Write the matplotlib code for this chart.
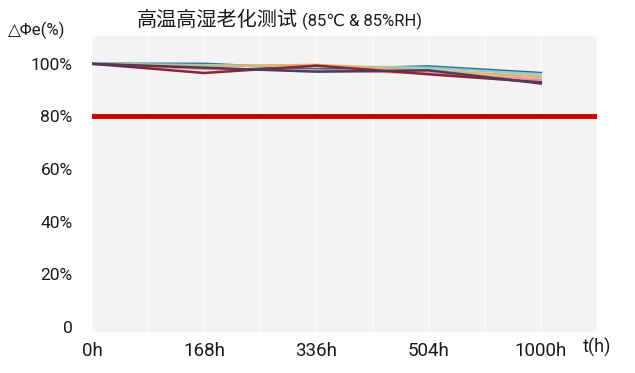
import matplotlib.pyplot as plt

plt.rcParams['font.family'] = ['Roboto', 'Noto Sans CJK SC', 'DejaVu Sans']

# data
times = ["0h", "168h", "336h", "504h", "1000h"]
series_a = [100, 100.0, 98.0, 99.0, 96.5]
series_b = [100, 99.5, 99.0, 98.5, 96.0]
series_c = [100, 99.0, 99.6, 97.5, 95.0]
series_d = [100, 98.0, 97.5, 96.5, 94.0]
series_e = [100, 96.5, 99.3, 96.0, 93.0]
series_f = [100, 98.5, 97.0, 97.5, 92.5]
limit = 80
yticks = [0, 20, 40, 60, 80, 100]
ylabels = ["0", "20%", "40%", "60%", "80%", "100%"]

colors = ["#2d6d8c", "#8dcfd0", "#e6b06e", "#e29aa2", "#8c2535", "#4b3b5c"]
all_series = [series_a, series_b, series_c, series_d, series_e, series_f]

fig = plt.figure(figsize=(6.35, 3.73), dpi=100)
ax = fig.add_axes([0.145, 0.11, 0.795, 0.793])
ax.set_facecolor("#f3f3f3")

x = list(range(len(times)))
for s, c in zip(all_series, colors):
    ax.plot(x, s, color=c, lw=1.8, zorder=3)

ax.axhline(limit, color="#c40000", lw=3.5, zorder=4)

ax.set_xlim(0, 4.5)
ax.set_ylim(-2, 110.5)
ax.set_xticks(x)
ax.set_xticklabels(times)
ax.set_xticks([i * 0.5 for i in range(10)], minor=True)
ax.set_yticks(yticks)
ax.set_yticklabels(ylabels)
ax.grid(which="both", axis="x", color="#fbfbfb", lw=1.2)
ax.tick_params(which="both", length=0)
ax.tick_params(axis="x", labelsize=13.5, pad=7, colors="#1a1a1a")
ax.tick_params(axis="y", labelsize=12.5, pad=14, colors="#1a1a1a")
for sp in ax.spines.values():
    sp.set_visible(False)

fig.text(0.216, 0.945, "高温高湿老化测试", fontsize=14.5, ha="left", va="center",
         color="#1a1a1a", family=['Noto Sans CJK SC', 'DejaVu Sans'])
fig.text(0.475, 0.943, "(85℃ & 85%RH)", fontsize=12, ha="left", va="center",
         color="#1a1a1a", family=['Roboto', 'DejaVu Sans'])
fig.text(0.012, 0.918, "△Φe(%)", fontsize=12, ha="left", va="center", color="#1a1a1a",
         family=['DejaVu Sans'] if False else ['Roboto', 'DejaVu Sans'])
fig.text(0.918, 0.068, "t(h)", fontsize=13, ha="left", va="center", color="#1a1a1a")

fig.savefig("out.png", dpi=100)
